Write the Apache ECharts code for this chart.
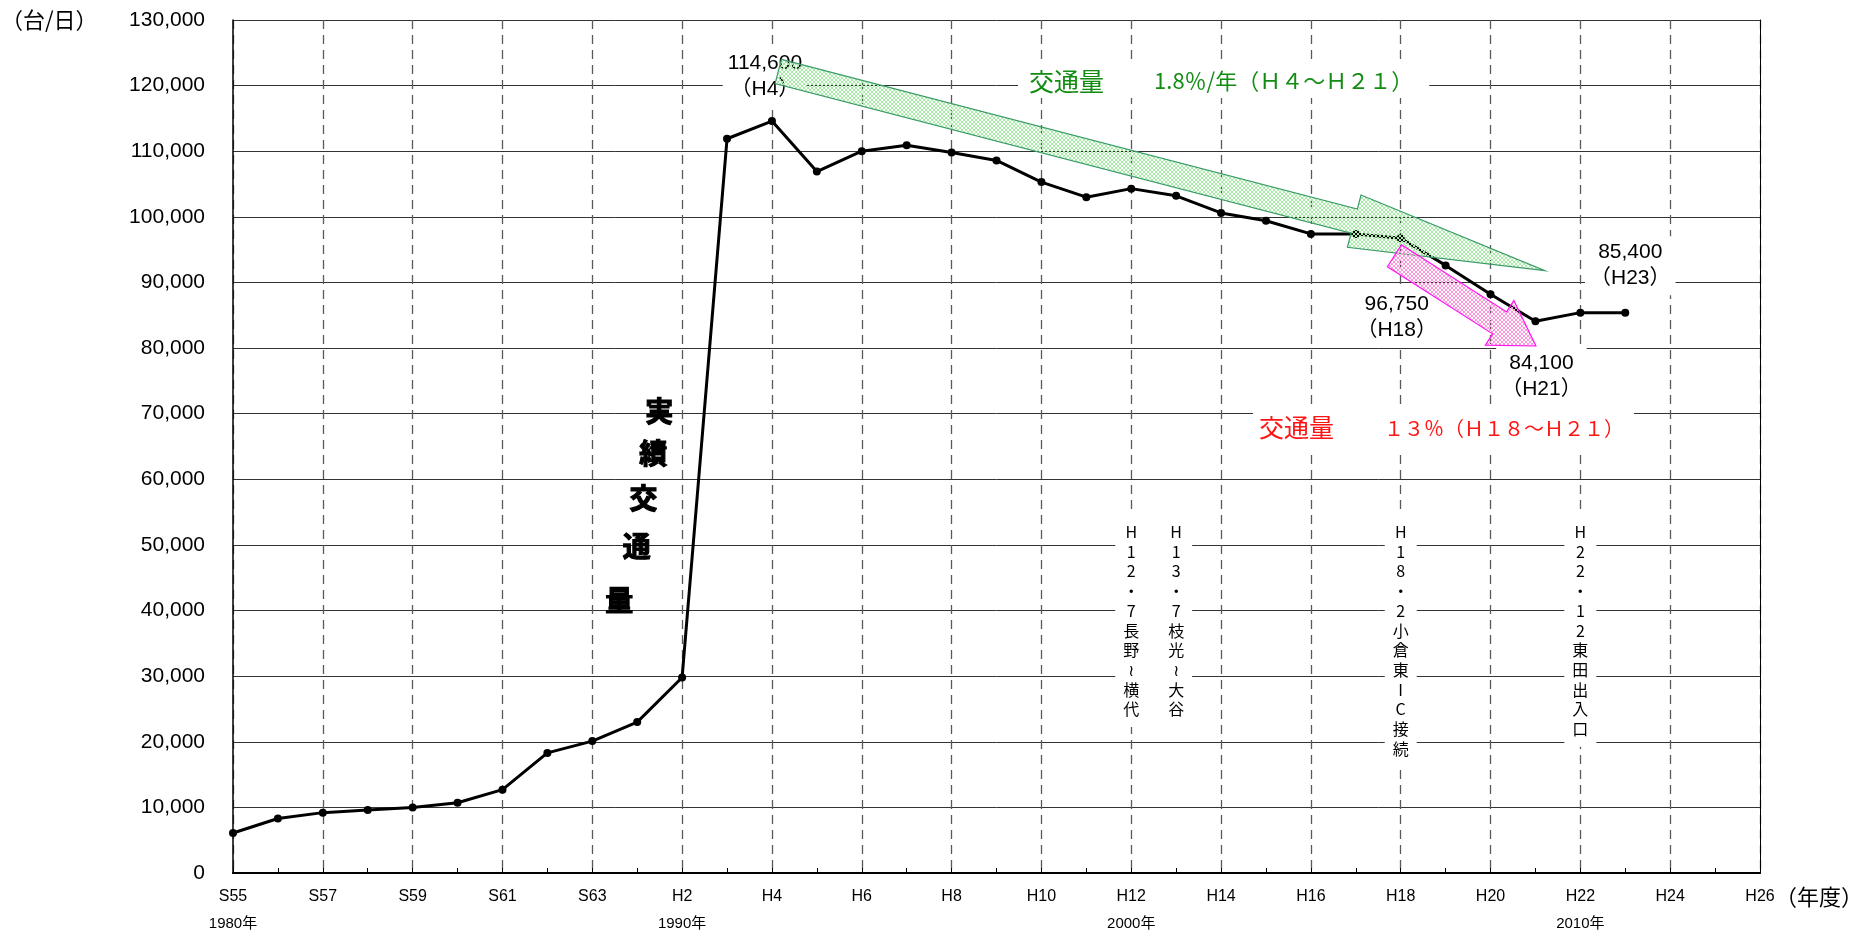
<!DOCTYPE html>
<html>
<head>
<meta charset="utf-8">
<title>交通量の推移</title>
<script src="https://cdn.jsdelivr.net/npm/echarts@6/dist/echarts.min.js"></script>
<style>
  html, body { margin: 0; padding: 0; background: #fff; }
  #chart { width: 1867px; height: 936px; }
</style>
</head>
<body>
<div id="chart"></div>
<script>
// ---- data -------------------------------------------------------------
// Fiscal years S55 (1980) .. H23 (2011) and daily traffic (台/日)
const fiscalYears = [
  1980, 1981, 1982, 1983, 1984, 1985, 1986, 1987, 1988, 1989, 1990,
  1991, 1992, 1993, 1994, 1995, 1996, 1997, 1998, 1999, 2000,
  2001, 2002, 2003, 2004, 2005, 2006, 2007, 2008, 2009, 2010, 2011
];
const dailyTraffic = [
  6100, 8300, 9200, 9600, 10000, 10700, 12700, 18300, 20100, 23000, 29800,
  111900, 114600, 106900, 110000, 110900, 109800, 108600, 105300, 103000, 104300,
  103200, 100600, 99400, 97400, 97400, 96750, 92600, 88200, 84100, 85400, 85400
];

// Axis ranges and calendar-year captions under the era labels
const yRange = [0, 130000, 10000];
const xRange = [1980, 2014, 2];
const calendarLabels = { 1980: '1980年', 1990: '1990年', 2000: '2000年', 2010: '2010年' };

// Points whose values are written next to them
const calloutYears = [1992, 2006, 2009, 2011];

// Trend periods: long-term yearly decline and short-term drop
const longTrendYears = [1992, 2009];
const shortTrendYears = [2006, 2009];

// Road openings, written vertically at their fiscal year
const milestoneYears = [2000, 2001, 2006, 2010];
const milestoneTexts = ['H12.7長野~横代', 'H13.7枝光~大谷', 'H18.2小倉東IC接続', 'H22.12東田出入口'];

const verticalCaption = '実績交通量';

// ---- layout (data-space anchors, pixel offsets) --------------------------
const calloutOffsets = [[-7, -45], [-4, 79], [6, 55], [5, -47]];
const trendCaptionAnchors = [[1997.48, 120700], [2002.71, 67750]];
const trendArrowEnds = [[1992.14, 122150, 2009.21, 91790], [2005.86, 94060, 2009.01, 80320]];
const milestoneTop = 55000;
const verticalCaptionAnchors = [[1989.49, 70300], [1989.36, 63960], [1989.14, 57100], [1988.99, 49730], [1988.60, 41600]];

// ---- helpers --------------------------------------------------------------
const FONT_LATIN = "'Liberation Sans', 'Noto Sans CJK JP', sans-serif";
const FONT_JP = "'Noto Sans CJK JP', 'DejaVu Sans', sans-serif";

const era = y => (y <= 1988 ? 'S' + (y - 1925) : 'H' + (y - 1988));
const valueAt = y => dailyTraffic[fiscalYears.indexOf(y)];
const fmt = v => Math.round(v).toLocaleString('en-US');
const toFullWidth = s => s.replace(/[0-9A-Za-z]/g, ch => String.fromCharCode(ch.charCodeAt(0) + 0xFEE0));

// Trend figures derived from the series itself
const [l0, l1] = longTrendYears;
const [s0, s1] = shortTrendYears;
const annualRate = (1 - Math.pow(valueAt(l1) / valueAt(l0), 1 / (l1 - l0))) * 100;
const dropRate = (1 - valueAt(s1) / valueAt(s0)) * 100;

const trendCaptions = [
  {
    text: annualRate.toFixed(1) + '％/年（' + toFullWidth(era(l0)) + '～' + toFullWidth(era(l1)) + '）',
    color: '#138c13', size: 22, pad: [2, 16, 2, 11]
  },
  {
    text: toFullWidth(String(Math.round(dropRate))) + '％（' + toFullWidth(era(s0)) + '～' + toFullWidth(era(s1)) + '）',
    color: '#ff1414', size: 20, pad: [5, 10, 6, 6]
  }
];

// Cross-hatched fill tiles for the trend arrows
function latticeTile(color) {
  const c = document.createElement('canvas');
  c.width = 4; c.height = 4;
  const g = c.getContext('2d');
  g.fillStyle = color;
  for (let i = 0; i < 4; i++) {
    g.fillRect(i, i, 1, 1);
    g.fillRect(3 - i, i, 1, 1);
  }
  return c;
}
const arrowStyles = [
  { tile: latticeTile('#a6eca6'), stroke: '#3a9a68', body: 25, head: 54, headLen: 197 },
  { tile: latticeTile('#ff96dc'), stroke: '#ff14f0', body: 26, head: 53, headLen: 43 }
];

// ---- renderers --------------------------------------------------------------
function renderArrow(params, api) {
  const a = api.coord([api.value(0), api.value(1)]);
  const b = api.coord([api.value(2), api.value(3)]);
  const s = arrowStyles[params.dataIndex];
  const dx = b[0] - a[0], dy = b[1] - a[1];
  const L = Math.hypot(dx, dy);
  const ux = dx / L, uy = dy / L, nx = -uy, ny = ux;
  const bw = s.body / 2, hw = s.head / 2, neck = L - s.headLen;
  const P = (t, w) => [a[0] + ux * t + nx * w, a[1] + uy * t + ny * w];
  const pts = [P(0, -bw), P(neck, -bw), P(neck, -hw), [b[0], b[1]], P(neck, hw), P(neck, bw), P(0, bw)];
  return {
    type: 'polygon',
    shape: { points: pts },
    style: { fill: { image: s.tile, repeat: 'repeat' }, stroke: s.stroke, lineWidth: 1.2 }
  };
}

function renderCallout(params, api) {
  const yr = api.value(0), v = api.value(1);
  const p = api.coord([yr, v]);
  const off = calloutOffsets[params.dataIndex];
  return {
    type: 'text',
    x: p[0] + off[0], y: p[1] + off[1],
    style: {
      text: fmt(v) + '\n（' + era(yr) + '）',
      fill: '#000', fontSize: 21, fontFamily: FONT_LATIN, lineHeight: 26,
      align: 'center', verticalAlign: 'middle',
      backgroundColor: '#fff', padding: [4, 5, 3, 5]
    }
  };
}

function renderMilestone(params, api) {
  const p = api.coord([api.value(0), api.value(1)]);
  const i = params.dataIndex;
  const chars = Array.from(milestoneTexts[i]).map(c => (c === '.' ? '・' : c === '~' ? '≀' : c));
  const pad = i === 0 ? [10, 22, 8, 8] : [10, 8, 8, 8];
  return {
    type: 'text',
    x: p[0] + (pad[1] - pad[3]) / 2, y: p[1],
    style: {
      text: chars.join('\n'),
      fill: '#000', fontSize: 16, fontFamily: FONT_JP, lineHeight: 19.7,
      align: 'center', verticalAlign: 'top',
      backgroundColor: '#fff', padding: pad
    }
  };
}

function renderTrendCaption(params, api) {
  const p = api.coord([api.value(0), api.value(1)]);
  const c = trendCaptions[params.dataIndex];
  return {
    type: 'text',
    x: p[0], y: p[1],
    style: {
      text: '{k|交通量　　}{n|' + c.text + '}',
      rich: {
        k: { fontSize: 25, fontFamily: FONT_JP, fill: c.color, lineHeight: 30 },
        n: { fontSize: c.size, fontFamily: FONT_JP, fill: c.color, lineHeight: 30 }
      },
      fill: c.color,
      align: 'left', verticalAlign: 'middle',
      backgroundColor: '#fff', padding: c.pad
    }
  };
}

function renderVerticalCaption(params, api) {
  const p = api.coord([api.value(0), api.value(1)]);
  return {
    type: 'text',
    x: p[0], y: p[1],
    style: {
      text: Array.from(verticalCaption)[params.dataIndex],
      fill: '#000', stroke: '#000', lineWidth: 1.2,
      fontSize: 28, fontWeight: 'bold', fontFamily: FONT_JP,
      align: 'center', verticalAlign: 'middle'
    }
  };
}

// ---- chart ------------------------------------------------------------------
const chart = echarts.init(document.getElementById('chart'), null, { renderer: 'canvas' });

chart.setOption({
  animation: false,
  backgroundColor: '#fff',
  grid: { left: 233, right: 107, top: 20, bottom: 63, outerBoundsMode: 'none' },
  xAxis: [
    {
      type: 'value',
      min: xRange[0], max: xRange[1], interval: xRange[2],
      axisLine: { show: true, lineStyle: { color: '#000', width: 2 } },
      axisTick: { show: true, inside: true, length: 5, lineStyle: { color: '#000', width: 1 } },
      minorTick: { show: true, splitNumber: 2, length: 5, lineStyle: { color: '#000', width: 1 } },
      splitLine: { show: true, lineStyle: { color: '#5a5a5a', width: 1.3, type: [9, 6] } },
      axisLabel: {
        margin: 9,
        showMinLabel: true, showMaxLabel: true,
        formatter: v => {
          const e = '{e|' + era(v) + '}';
          return calendarLabels[v] ? e + '\n{d|' + calendarLabels[v] + '}' : e;
        },
        rich: {
          e: { fontSize: 16, lineHeight: 30, fontFamily: FONT_LATIN, color: '#000' },
          d: { fontSize: 15, lineHeight: 24, fontFamily: FONT_LATIN, color: '#000' }
        }
      }
    },
    {
      type: 'value', position: 'top',
      min: xRange[0], max: xRange[1], interval: xRange[2],
      axisLine: { show: true, lineStyle: { color: '#000', width: 1 } },
      axisTick: { show: false }, axisLabel: { show: false }, splitLine: { show: false }
    }
  ],
  yAxis: [
    {
      type: 'value',
      min: yRange[0], max: yRange[1], interval: yRange[2],
      axisLine: { show: true, lineStyle: { color: '#000', width: 1.5 } },
      axisTick: { show: false },
      splitLine: { show: true, lineStyle: { color: '#333', width: 1 } },
      axisLabel: {
        margin: 28, fontSize: 21, color: '#000', fontFamily: FONT_LATIN,
        formatter: v => fmt(v)
      }
    },
    {
      type: 'value', position: 'right',
      min: yRange[0], max: yRange[1], interval: yRange[2],
      axisLine: { show: true, lineStyle: { color: '#000', width: 1 } },
      axisTick: { show: false }, axisLabel: { show: false }, splitLine: { show: false }
    }
  ],
  series: [
    {
      name: '実績交通量',
      type: 'line',
      data: fiscalYears.map((y, i) => [y, dailyTraffic[i]]),
      symbol: 'circle', symbolSize: 8,
      lineStyle: { color: '#000', width: 3 },
      itemStyle: { color: '#000' },
      z: 4
    },
    {
      type: 'custom', coordinateSystem: 'cartesian2d', silent: true, z: 3,
      data: milestoneYears.map(y => [y, milestoneTop]),
      renderItem: renderMilestone
    },
    {
      type: 'custom', coordinateSystem: 'cartesian2d', silent: true, z: 3,
      data: calloutYears.map(y => [y, valueAt(y)]),
      renderItem: renderCallout
    },
    {
      type: 'custom', coordinateSystem: 'cartesian2d', silent: true, z: 3,
      data: trendCaptionAnchors,
      renderItem: renderTrendCaption
    },
    {
      type: 'custom', coordinateSystem: 'cartesian2d', silent: true, z: 3,
      data: verticalCaptionAnchors,
      renderItem: renderVerticalCaption
    },
    {
      type: 'custom', coordinateSystem: 'cartesian2d', silent: true, z: 6,
      encode: { x: [0, 2], y: [1, 3] },
      data: trendArrowEnds,
      renderItem: renderArrow
    }
  ],
  graphic: [
    {
      type: 'text', left: 1, top: 9, z: 10,
      style: { text: '（台/日）', fontSize: 22, fontFamily: FONT_JP, fill: '#000' }
    },
    {
      type: 'text', left: 1775, top: 886, z: 10,
      style: { text: '（年度）', fontSize: 22, fontFamily: FONT_JP, fill: '#000' }
    }
  ]
});
</script>
</body>
</html>
